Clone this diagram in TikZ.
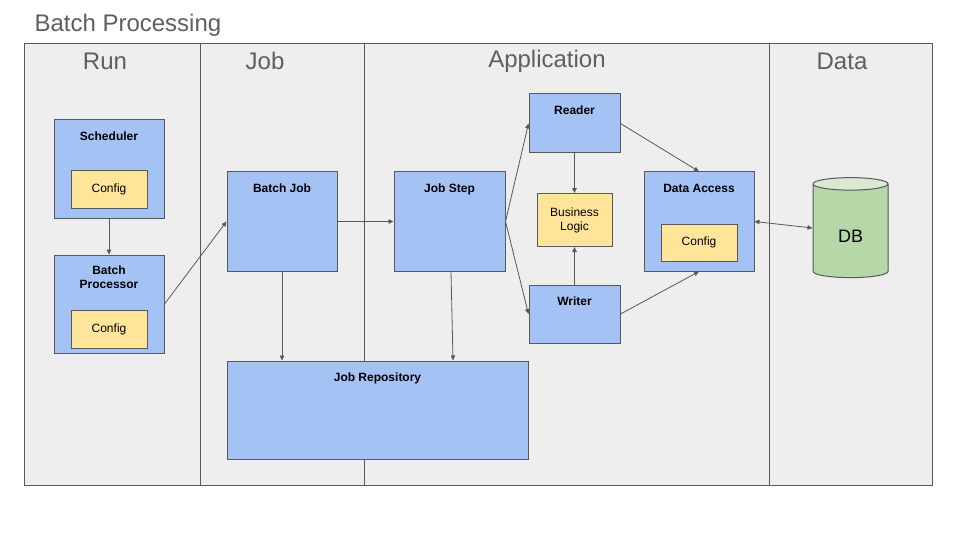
\documentclass[tikz,border=0pt]{standalone}
\usepackage{fontspec}
\setmainfont{Liberation Sans}
\usetikzlibrary{arrows.meta, shapes.geometric}

\definecolor{laneBg}{HTML}{EEEEEE}
\definecolor{edgeGray}{HTML}{595959}
\definecolor{textGray}{HTML}{5F5F5F}
\definecolor{boxBlue}{HTML}{A4C2F4}
\definecolor{cfgYellow}{HTML}{FFE599}
\definecolor{dbGreen}{HTML}{B6D7A8}
\definecolor{dbTop}{HTML}{D9EAD3}

\begin{document}
\begin{tikzpicture}[
        x=1pt, y=-1pt,
        box/.style={draw=edgeGray, fill=boxBlue, line width=1pt, inner sep=0pt},
        cfg/.style={draw=edgeGray, fill=cfgYellow, line width=1pt, inner sep=0pt, align=center,
            font=\fontsize{12}{14}\selectfont},
        lbl/.style={font=\bfseries\fontsize{12}{14}\selectfont, align=center, anchor=base, inner sep=0pt},
        title/.style={label={[lbl, yshift=-21pt]north:#1}},
        lane/.style={text=textGray, font=\fontsize{24}{28}\selectfont},
        arr/.style={-{Triangle[length=5pt, width=4.5pt]}, draw=edgeGray, line width=0.8pt}
    ]
        \useasboundingbox[fill=white] (0,0) rectangle (960,540);

        % swim lanes
        \draw[fill=laneBg, draw=edgeGray, line width=0.8pt] (24,43) rectangle (932,485);
        \draw[edgeGray, line width=0.8pt] (200,43) -- (200,485);
        \draw[edgeGray, line width=0.8pt] (364,43) -- (364,485);
        \draw[edgeGray, line width=0.8pt] (769,43) -- (769,485);
        \node[lane, anchor=west] (heading) at (31,25) {Batch Processing};
        \node[lane] (runLane) at (105,61) {Run};
        \node[lane] (jobLane) at (265,61) {Job};
        \node[lane] (appLane) at (547,61) {Application};
        \node[lane] (dataLane) at (842,61) {Data};

        % run
        \node[box, title=Scheduler, minimum width=110pt, minimum height=98pt] (sched) at (109,169) {};
        \node[cfg, minimum width=76pt, minimum height=37pt] (schedCfg) at (109,189.5) {Config};
        \node[box, label={[lbl, yshift=-34pt]north:Batch\\Processor}, minimum width=110pt, minimum height=98pt] (proc) at (109,304) {};
        \node[cfg, minimum width=76pt, minimum height=38pt] (procCfg) at (109,329) {Config};

        % job
        \node[box, title=Batch Job, minimum width=110pt, minimum height=99pt] (batchJob) at (282,221.5) {};
        \node[box, title=Job Repository, minimum width=301pt, minimum height=98pt] (repo) at (377.5,410) {};

        % application
        \node[box, title=Job Step, minimum width=111pt, minimum height=99pt] (jobStep) at (449.5,221.5) {};
        \node[box, title=Reader, minimum width=91pt, minimum height=59pt] (reader) at (574.5,123.5) {};
        \node[cfg, minimum width=75pt, minimum height=53pt] (logic) at (574.5,220) {Business\\Logic};
        \node[box, title=Writer, minimum width=91pt, minimum height=58pt] (writer) at (574.5,314) {};
        \node[box, title=Data Access, minimum width=110pt, minimum height=99pt] (dataAcc) at (699,221.5) {};
        \node[cfg, minimum width=76pt, minimum height=37pt] (dataCfg) at (699,242.5) {Config};

        % data
        \node[cylinder, shape border rotate=90, aspect=0.5, draw=edgeGray, line width=1pt,
            cylinder uses custom fill, cylinder body fill=dbGreen, cylinder end fill=dbTop,
            minimum width=75pt, minimum height=100pt, inner sep=0pt,
            text height=22pt, text depth=0pt,
            font=\fontsize{18}{20}\selectfont] (db) at (850.5,231) {DB};

        \draw[arr] (sched) -- (proc);
        \draw[arr] (proc.east) -- (batchJob.west);
        \draw[arr] (batchJob) -- (jobStep);
        \draw[arr] (batchJob.south) -- (batchJob.south |- repo.north);
        \draw[arr] ([xshift=1.5pt]jobStep.south) -- ([xshift=3.5pt]jobStep.south |- repo.north);
        \draw[arr] (jobStep.east) -- (reader.west);
        \draw[arr] (jobStep.east) -- (writer.west);
        \draw[arr] (reader) -- (logic);
        \draw[arr] (writer) -- (logic);
        \draw[arr] (reader.east) -- (dataAcc.north);
        \draw[arr] (writer.east) -- (dataAcc.south);
        \draw[arr, {Triangle[length=5pt, width=4.5pt]}-{Triangle[length=5pt, width=4.5pt]}] (dataAcc.east) -- ([yshift=3pt]db.west);
    \end{tikzpicture}
\end{document}
